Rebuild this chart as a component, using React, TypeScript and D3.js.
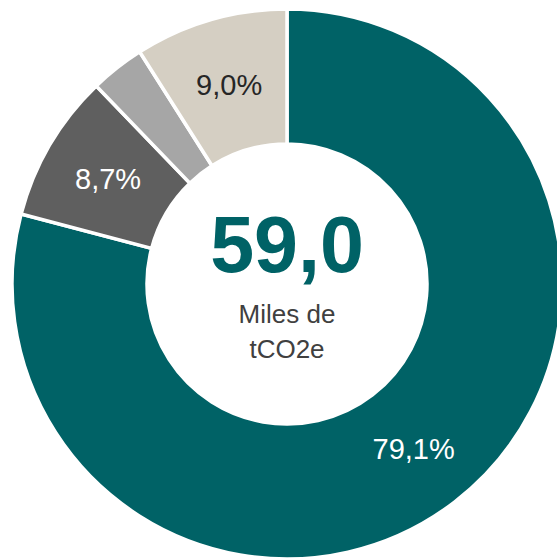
import React from "react";
import * as d3 from "d3";

const categories = ["A", "B", "C", "D"];
const values = [79.1, 8.7, 3.2, 9.0];
const labels = ["79,1%", "8,7%", "", "9,0%"];
const colors = ["#006266", "#5f5f5f", "#a6a6a6", "#d5cfc3"];
const labelColors = ["#ffffff", "#ffffff", "#ffffff", "#262626"];
const totalText = "59,0";
const unitLines = ["Miles de", "tCO2e"];

const W = 557;
const H = 559;
const cx = 287;
const cy = 284;
const outerR = 275;
const innerR = 140;

export default function App() {
  const pie = d3.pie<number>().value((d) => d).sort(null)(values);
  const arc = d3.arc<d3.PieArcDatum<number>>().innerRadius(innerR).outerRadius(outerR);
  const labelArc = d3
    .arc<d3.PieArcDatum<number>>()
    .innerRadius((innerR + outerR) / 2)
    .outerRadius((innerR + outerR) / 2);
  const font = "'Liberation Sans', Arial, sans-serif";
  return (
    <svg
      width={W}
      height={H}
      style={{ position: "absolute", left: 0, top: 0, background: "#fff" }}
    >
      <g transform={`translate(${cx},${cy})`}>
        {pie.map((p, i) => (
          <path
            key={categories[i]}
            d={arc(p) || ""}
            fill={colors[i]}
            stroke="#ffffff"
            strokeWidth={3.5}
            strokeLinejoin="miter"
          />
        ))}
        {pie.map((p, i) => {
          if (!labels[i]) return null;
          const [x, y] = labelArc.centroid(p);
          return (
            <text
              key={"l" + i}
              x={x}
              y={y}
              dy="0.36em"
              textAnchor="middle"
              fontFamily={font}
              fontSize={29}
              fill={labelColors[i]}
            >
              {labels[i]}
            </text>
          );
        })}
        <text
          x={0}
          y={-12}
          textAnchor="middle"
          fontFamily={font}
          fontWeight="bold"
          fontSize={79}
          fill="#006266"
        >
          {totalText}
        </text>
        {unitLines.map((t, i) => (
          <text
            key={t}
            x={0}
            y={39 + i * 35}
            textAnchor="middle"
            fontFamily={font}
            fontSize={26}
            fill="#404040"
          >
            {t}
          </text>
        ))}
      </g>
    </svg>
  );
}
